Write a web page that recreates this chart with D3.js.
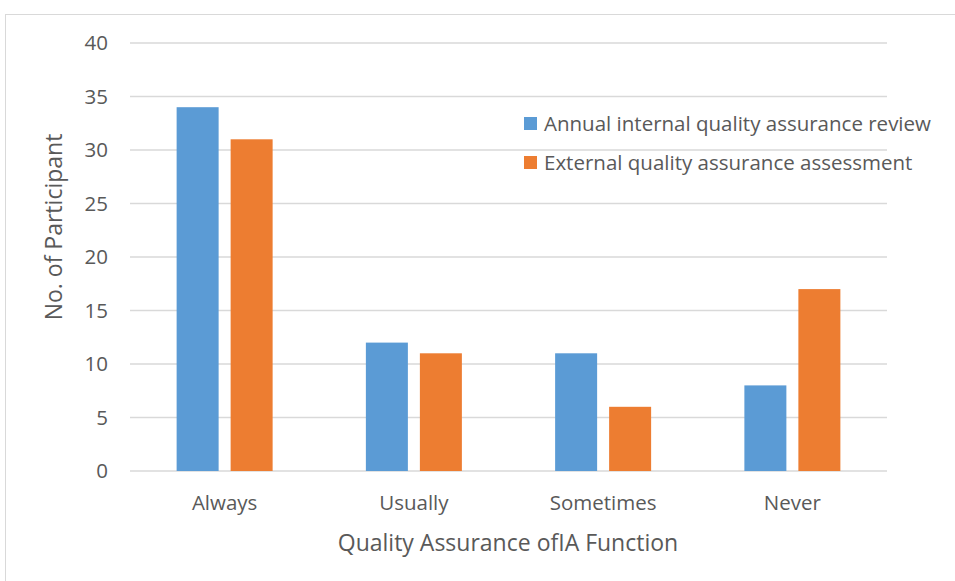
<!DOCTYPE html>
<html>
<head>
<meta charset="utf-8">
<script src="https://cdn.jsdelivr.net/npm/d3@7"></script>
<style>
  html, body { margin: 0; padding: 0; background: #fff; }
  svg { display: block; }
  text { font-family: "Open Sans", "Noto Sans", sans-serif; fill: #595959; }
</style>
</head>
<body>
<svg id="chart" width="955" height="581"></svg>
<script>
// Quality assurance frequency by participant count
const categories = ["Always", "Usually", "Sometimes", "Never"];
const seriesNames = ["Annual internal quality assurance review", "External quality assurance assessment"];
const internalReview = [34, 12, 11, 8];
const externalAssessment = [31, 11, 6, 17];
const yTicks = [0, 5, 10, 15, 20, 25, 30, 35, 40];
const colors = ["#5b9bd5", "#ed7d31"];

const svg = d3.select("#chart");
const W = 955, H = 581;

// outer frame
svg.append("rect")
  .attr("x", 5.5).attr("y", 14.5)
  .attr("width", W).attr("height", H)
  .attr("fill", "#fff").attr("stroke", "#d9d9d9").attr("stroke-width", 1);

const plot = { left: 130, right: 887, top: 43, bottom: 471 };

const x = d3.scaleBand().domain(categories).range([plot.left, plot.right]).paddingInner(0).paddingOuter(0);
const y = d3.scaleLinear().domain([0, 40]).range([plot.bottom, plot.top]);

// gridlines
svg.append("g")
  .selectAll("line").data(yTicks).join("line")
  .attr("x1", plot.left).attr("x2", plot.right)
  .attr("y1", d => y(d)).attr("y2", d => y(d))
  .attr("stroke", "#d9d9d9").attr("stroke-width", 1.5);

// y tick labels
const yAxis = d3.axisLeft(y).tickValues(yTicks).tickSize(0).tickPadding(0);
const gy = svg.append("g").attr("transform", `translate(${plot.left - 22},0)`).call(yAxis);
gy.select(".domain").remove();
gy.selectAll("text").style("font-size", "20.5px").attr("fill", "#595959").attr("font-family", null);

// bars
const barW = 42, gap = 12;
const series = [internalReview, externalAssessment];
series.forEach((vals, si) => {
  svg.append("g").selectAll("rect").data(vals).join("rect")
    .attr("x", (d, i) => x(categories[i]) + x.bandwidth() / 2 + (si === 0 ? -(barW + gap / 2) : gap / 2))
    .attr("width", barW)
    .attr("y", d => y(d))
    .attr("height", d => y(0) - y(d))
    .attr("fill", colors[si]);
});

// x category labels
const xAxis = d3.axisBottom(x).tickSize(0).tickPadding(0);
const gx = svg.append("g").attr("transform", `translate(0,${plot.bottom + 24})`).call(xAxis);
gx.select(".domain").remove();
gx.selectAll("text").style("font-size", "20.5px").attr("fill", "#595959").attr("font-family", null).attr("dy", "0.71em");

// axis titles
svg.append("text")
  .attr("x", 508).attr("y", 551)
  .attr("text-anchor", "middle").style("font-size", "23px")
  .text("Quality Assurance ofIA Function");

svg.append("text")
  .attr("transform", `translate(62,227) rotate(-90)`)
  .attr("text-anchor", "middle").style("font-size", "23px")
  .text("No. of Participant");

// legend
const legend = svg.append("g").attr("transform", "translate(524,117)");
seriesNames.forEach((name, i) => {
  const g = legend.append("g").attr("transform", `translate(0,${i * 39})`);
  g.append("rect").attr("width", 13).attr("height", 13).attr("fill", colors[i]);
  g.append("text").attr("x", 20).attr("y", 13.5).style("font-size", "20.5px").text(name);
});
</script>
</body>
</html>
